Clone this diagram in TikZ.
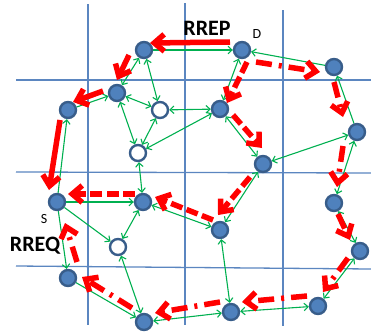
\documentclass[tikz,border=0pt]{standalone}
\usepackage{fontspec}
\setmainfont{Carlito}
\usetikzlibrary{arrows.meta}
\definecolor{nodeblue}{HTML}{4F81BD}
\definecolor{ringblue}{HTML}{385D8A}
\definecolor{linkgreen}{HTML}{00B050}
\definecolor{gridblue}{HTML}{5B86C0}

\begin{document}
\begin{tikzpicture}[x=1pt,y=-1pt,
  gtip/.tip={Straight Barb[length=4pt,width=7.5pt]},
  rtip/.tip={Straight Barb[length=10pt,width=17pt]},
  host/.style={draw=ringblue,line width=2.4pt,circle,fill=nodeblue,minimum size=16pt,inner sep=0pt},
  idle/.style={host,fill=white},
  link/.style={draw=linkgreen,line width=1.1pt},
  twoway/.style={link,arrows={gtip-gtip}},
  oneway/.style={link,arrows={-gtip}},
  rrep/.style={draw=red,line width=5.5pt,arrows={-rtip}},
  rreq/.style={rrep,dash pattern=on 12pt off 4.5pt},
  rreqdot/.style={rrep,dash pattern=on 16pt off 7pt on 3pt off 7pt},
  rule/.style={draw=gridblue,line width=1.3pt}]
\useasboundingbox (0,0) rectangle (371,332);

% Grid
\draw[rule] (88,4) -- (88,325);
\draw[rule] (185,3) -- (185,325);
\draw[rule] (283,10) -- (283,326);
\draw[rule] (16,80) -- (371,80);
\draw[rule] (16,172) -- (371,173);
\draw[rule] (16,266) -- (371,269);

% Hosts
\node[host] (a) at (144,50) {};
\node[host] (d) at (242,50) {};
\node[host] (b) at (117,93) {};
\node[host] (c) at (68,110) {};
\node[idle] (w1) at (160,110) {};
\node[idle] (w2) at (138,153) {};
\node[host] (e) at (220,109) {};
\node[host] (f) at (334,67) {};
\node[host] (g) at (357,132) {};
\node[host] (h) at (263,164) {};
\node[host] (s) at (57,202) {};
\node[host] (i) at (143,202) {};
\node[idle] (w3) at (118,247) {};
\node[host] (j) at (68,278) {};
\node[host] (k) at (144,322) {};
\node[host] (l) at (220,230) {};
\node[host] (m) at (334,203) {};
\node[host] (n) at (360,251) {};
\node[host] (o) at (318,306) {};
\node[host] (p) at (231,312) {};

% Links
\draw[oneway] (a) -- (d);
\draw[twoway] (a) -- (b);
\draw[twoway] (a) -- (w1);
\draw[oneway] (c) -- (b);
\draw[twoway] (b) -- (w1);
\draw[twoway] (b) -- (w2);
\draw[twoway] (w1) -- (w2);
\draw[twoway] (w1) -- (e);
\draw[twoway] (w2) -- (e);
\draw[twoway] (w2) -- (i);
\draw[oneway] (s) -- (c);
\draw[oneway] (f) -- (d);
\draw[twoway] (d) -- (e);
\draw[twoway] (e) -- (h);
\draw[oneway] (g) -- (f);
\draw[twoway] (h) -- (g);
\draw[twoway] (g) -- (m);
\draw[twoway] (m) -- (n);
\draw[twoway] (n) -- (o);
\draw[twoway] (o) -- (p);
\draw[twoway] (l) -- (p);
\draw[twoway] (h) -- (l);
\draw[twoway] (i) -- (l);
\draw[oneway] (s) -- (i);
\draw[twoway] (i) -- (w3);
\draw[oneway] (s) -- (w3);
\draw[oneway] (s) -- (j);
\draw[oneway] (j) -- (k);
\draw[twoway] (w3) -- (k);
\draw[twoway] (k) -- (p);

% Route reply
\draw[rrep] ([shift={(-12,-8)}]d.center) -- ([shift={(6,-7)}]a.center);
\draw[rrep] ([shift={(-15,5)}]a.center) -- ([shift={(0,-13)}]b.center);
\draw[rrep] ([shift={(-14,-2)}]b.center) -- ([shift={(5,-8)}]c.center);
\draw[rrep] ([shift={(-8,10)}]c.center) -- ([shift={(-8,-12)}]s.center);

% Route request
\draw[rreq] ([shift={(5,12)}]d.center) -- ([shift={(7,-6)}]e.center);
\draw[rreq] ([shift={(13,6)}]e.center) -- ([shift={(-1,-16)}]h.center);
\draw[rreq] ([shift={(-13,13)}]h.center) -- ([shift={(-2,-15)}]l.center);
\draw[rreq] ([shift={(-7,-10)}]l.center) -- ([shift={(12,-5)}]i.center);
\draw[rreq] ([shift={(-8,-8)}]i.center) -- ([shift={(11,-8)}]s.center);
\draw[rreqdot] ([shift={(14,12)}]d.center) -- ([shift={(-14,5)}]f.center);
\draw[rreqdot] ([shift={(0,15)}]f.center) -- ([shift={(-14,-15)}]g.center);
\draw[rreqdot] ([shift={(-14,14)}]g.center) -- ([shift={(3,-16)}]m.center);
\draw[rreqdot] ([shift={(4,11)}]m.center) -- ([shift={(-10,-11)}]n.center);
\draw[rreqdot] ([shift={(-12,7)}]n.center) -- ([shift={(5,-14)}]o.center);
\draw[rreqdot] ([shift={(-11,-10)}]o.center) -- ([shift={(11,-10)}]p.center);
\draw[rreqdot] ([shift={(-11,-10)}]p.center) -- ([shift={(11,-9)}]k.center);
\draw[rreqdot] ([shift={(-12,-14)}]k.center) -- ([shift={(14,-1)}]j.center);
\draw[rreqdot] ([shift={(9,-16)}]j.center) -- ([shift={(8,21)}]s.center);

% Labels
\node[font=\bfseries\fontsize{22}{24}\selectfont] (rreptext) at (207,28) {RREP};
\node[font=\bfseries\fontsize{22}{24}\selectfont] (rreqtext) at (35,246) {RREQ};
\node[font=\fontsize{14}{16}\selectfont] (dtext) at (257,34) {D};
\node[font=\fontsize{14}{16}\selectfont] (stext) at (44,219) {S};
\end{tikzpicture}
\end{document}
